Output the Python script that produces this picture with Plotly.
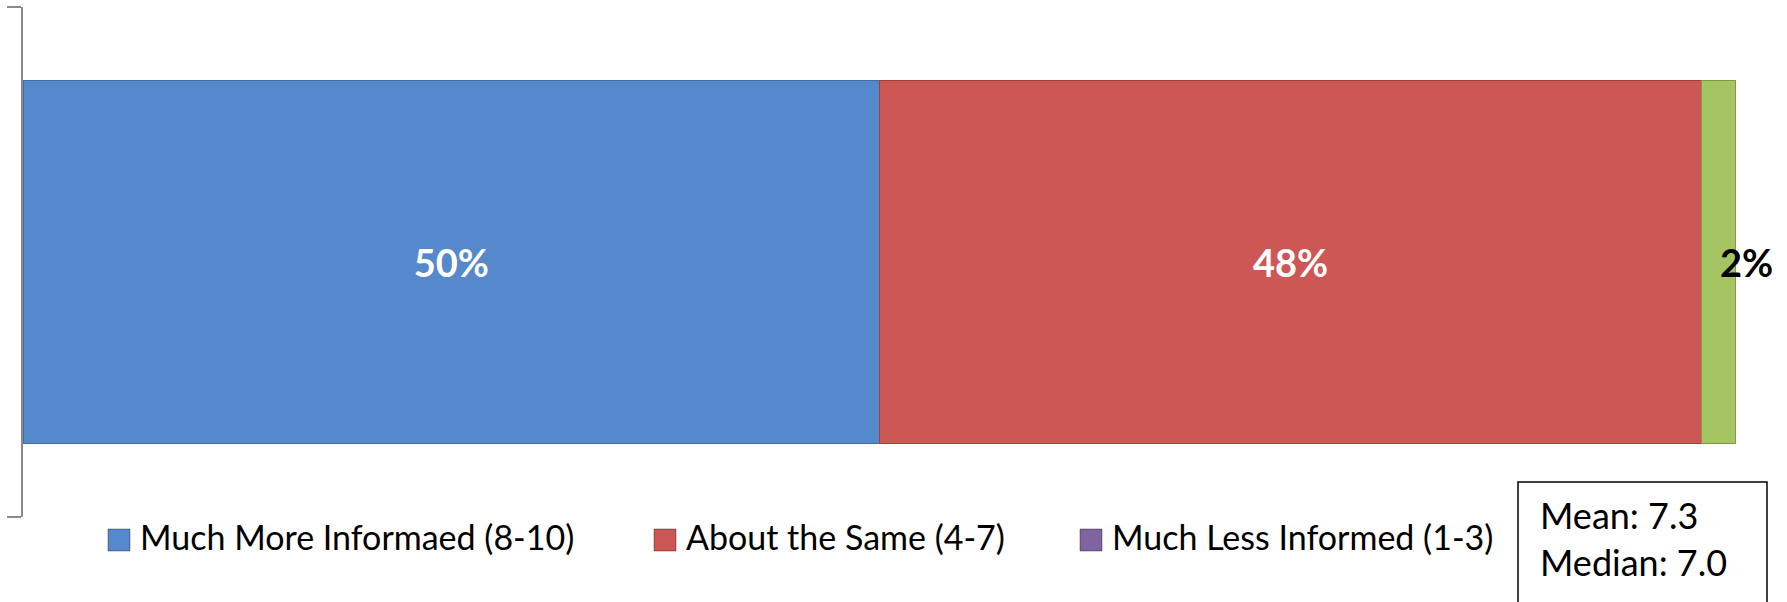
import plotly.graph_objects as go

# Survey results: how informed respondents feel
categories = ["Much More Informaed (8-10)", "About the Same (4-7)", "Much Less Informed (1-3)"]
values = [50, 48, 2]
bar_colors = ["#5689CB", "#CD5755", "#A5C562"]
edge_colors = ["#3E6DA8", "#A53F3D", "#7E9A45"]
legend_colors = ["#5689CB", "#CD5755", "#8064A2"]
label_colors = ["white", "white", "black"]
row = ["Informed"]
stats_text = ["Mean: 7.3", "Median: 7.0"]

W, H = 1787, 602
L, R, T, B = 23, 51, 7, 85
PW, PH = W - L - R, H - T - B
FONT = "Lato"


def px(x):
    return (x - L) / PW


def py(y):
    return (H - B - y) / PH


fig = go.Figure()
for i, (name, v) in enumerate(zip(categories, values)):
    inside = label_colors[i] == "white"
    fig.add_trace(go.Bar(
        y=row, x=[v], orientation="h", name=name,
        width=0.712,
        marker=dict(color=bar_colors[i], line=dict(color=edge_colors[i], width=1.5)),
        text=[f"{v}%"] if inside else None,
        textposition="inside" if inside else "none",
        insidetextanchor="middle",
        textfont=dict(family=FONT, size=38, color=label_colors[i], weight="bold"),
        showlegend=False,
        hoverinfo="skip",
    ))

# small outer label for the last segment
total = sum(values)
fig.add_annotation(
    x=total, y=row[0], xref="x", yref="y", text=f"<b>{values[-1]}%</b>",
    showarrow=False, xanchor="center", yanchor="middle", xshift=10,
    font=dict(family=FONT, size=38, color=label_colors[-1]),
)

# legend row
legend_x = [108, 654, 1080]
sq = 22
legend_y = 540
for name, color, lx in zip(categories, legend_colors, legend_x):
    fig.add_shape(
        type="rect", xref="paper", yref="paper",
        x0=px(lx), x1=px(lx + sq), y0=py(legend_y + sq / 2), y1=py(legend_y - sq / 2),
        fillcolor=color, line=dict(color="rgba(0,0,0,0.35)", width=1),
    )
    fig.add_annotation(
        x=px(lx + sq + 8), y=py(legend_y - 4), xref="paper", yref="paper",
        text=name, showarrow=False, xanchor="left", yanchor="middle",
        font=dict(family=FONT, size=34, color="black"),
    )

# statistics box
fig.add_shape(
    type="rect", xref="paper", yref="paper",
    x0=px(1518), x1=px(1767), y0=py(640), y1=py(482),
    line=dict(color="black", width=1.5), fillcolor="white",
)
fig.add_annotation(
    x=px(1538), y=py(538), xref="paper", yref="paper",
    text="<br>".join(stats_text), showarrow=False, xanchor="left", yanchor="middle",
    align="left", font=dict(family=FONT, size=36, color="black"),
)

fig.update_layout(
    width=W, height=H,
    margin=dict(l=L, r=R, t=T, b=B),
    barmode="stack",
    paper_bgcolor="white", plot_bgcolor="white",
    xaxis=dict(range=[0, total], visible=False, fixedrange=True),
    yaxis=dict(
        type="category", range=[-0.5, 0.5], showticklabels=False,
        tickson="boundaries", ticks="outside", ticklen=14, tickwidth=2,
        tickcolor="#8A8A8A", showline=True, linecolor="#8A8A8A", linewidth=2,
        showgrid=False, zeroline=False, fixedrange=True,
    ),
    font=dict(family=FONT),
)

fig.write_html("out.html")
